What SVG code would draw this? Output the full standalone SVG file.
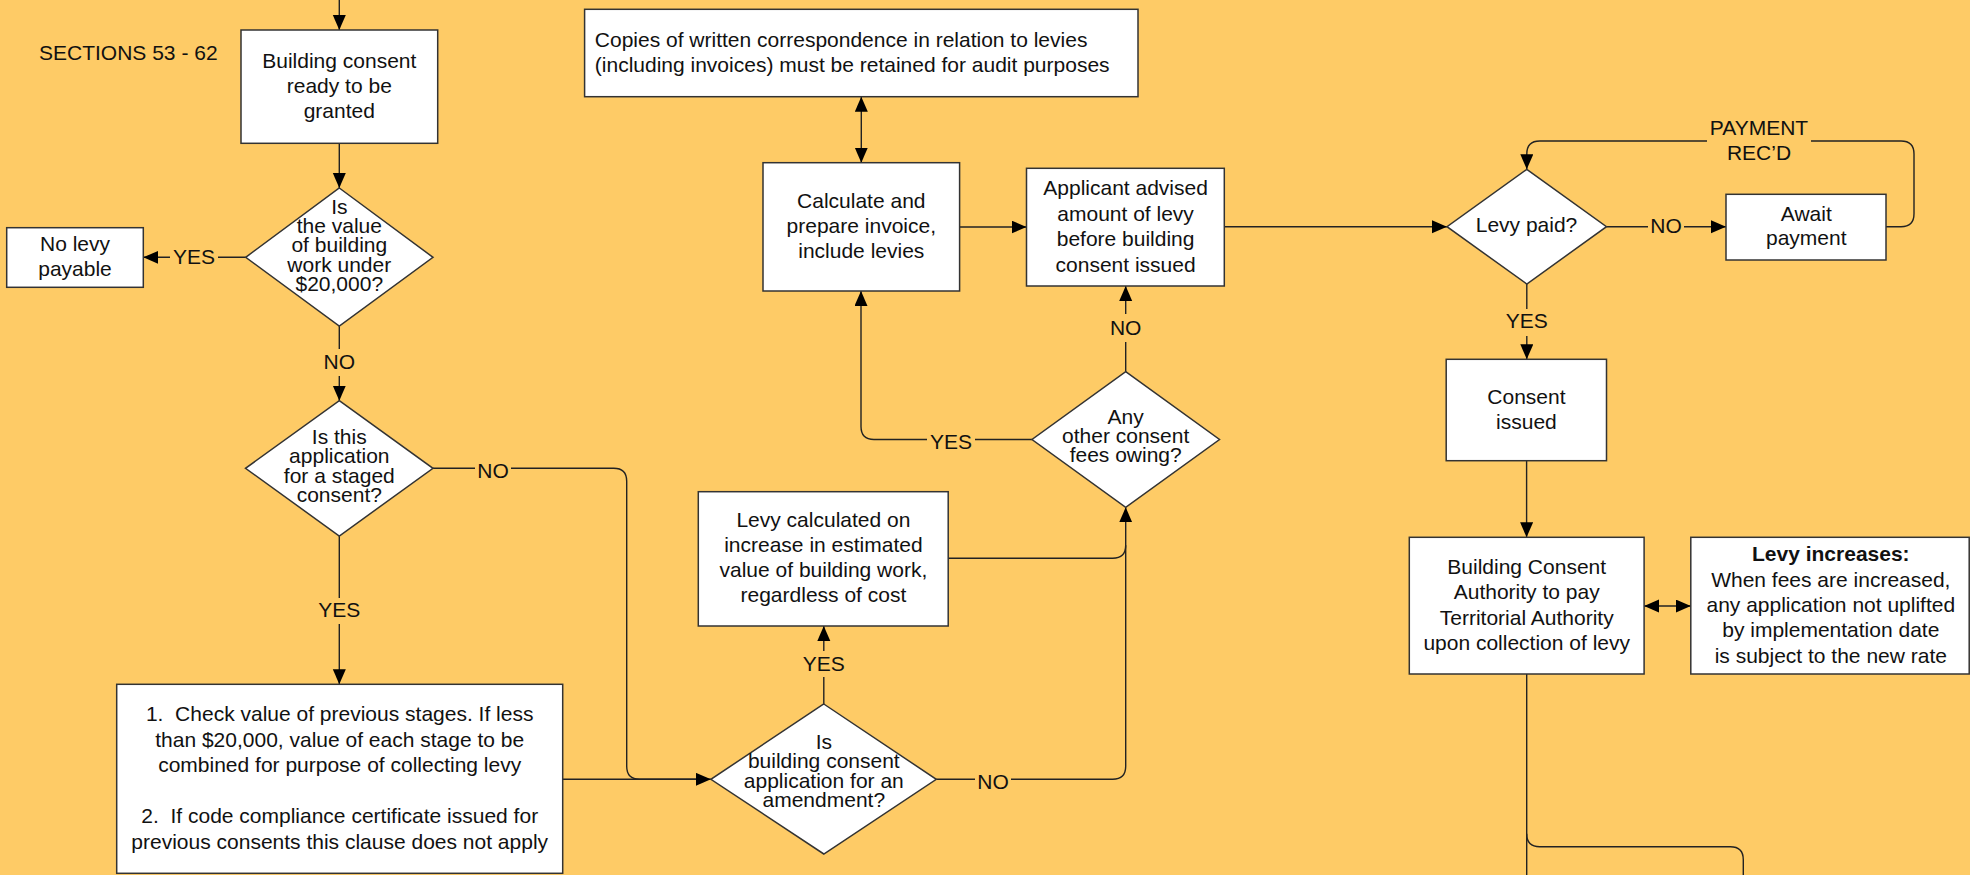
<svg xmlns="http://www.w3.org/2000/svg" width="1970" height="875" viewBox="0 0 1970 875">
<style>
.bx{fill:#fff;stroke:#333;stroke-width:1.5}
.cn{fill:none;stroke:#222;stroke-width:1.4}
.t{font-family:"Liberation Sans",Arial,sans-serif;font-size:21px;fill:#111;text-anchor:middle}
.tl{font-family:"Liberation Sans",Arial,sans-serif;font-size:21px;fill:#111;text-anchor:start}
.b{font-weight:bold}
.pre{white-space:pre}
.lbg{fill:#FECB66}
</style>
<defs>
<marker id="ah" markerUnits="userSpaceOnUse" markerWidth="16" markerHeight="14" refX="15" refY="6.5" orient="auto-start-reverse" viewBox="0 0 16 14">
<path d="M0,0 L15,6.5 L0,13 z" fill="#000"/>
</marker>
</defs>
<rect x="0" y="0" width="1970" height="875" fill="#FECB66"/>

<g id="connectors">
<path class="cn" d="M339.3,0 V30" marker-end="url(#ah)"/>
<path class="cn" d="M339.3,143.3 V188" marker-end="url(#ah)"/>
<path class="cn" d="M245.7,257.3 H143.3" marker-end="url(#ah)"/>
<path class="cn" d="M339.3,326 V400.7" marker-end="url(#ah)"/>
<path class="cn" d="M433,468.3 H613.7 Q626.7,468.3 626.7,481.3 V766.3 Q626.7,779.3 639.7,779.3 H700"/>
<path class="cn" d="M339.3,536 V684.3" marker-end="url(#ah)"/>
<path class="cn" d="M562.5,779.3 H710.9" marker-end="url(#ah)"/>
<path class="cn" d="M823.8,704 V626" marker-end="url(#ah)"/>
<path class="cn" d="M936.3,779.3 H1112.7 Q1125.7,779.3 1125.7,766.3 V507.3" marker-end="url(#ah)"/>
<path class="cn" d="M948.2,558.3 H1112.7 Q1125.7,558.3 1125.7,545.3"/>
<path class="cn" d="M1125.7,371.7 V286" marker-end="url(#ah)"/>
<path class="cn" d="M1032,439.5 H874 Q861,439.5 861,426.5 V291" marker-end="url(#ah)"/>
<path class="cn" d="M861.3,96.7 V162.7" marker-start="url(#ah)" marker-end="url(#ah)"/>
<path class="cn" d="M959.6,227 H1026.5" marker-end="url(#ah)"/>
<path class="cn" d="M1224.3,226.7 H1447" marker-end="url(#ah)"/>
<path class="cn" d="M1606.5,226.7 H1726" marker-end="url(#ah)"/>
<path class="cn" d="M1886,226.7 H1901 Q1914,226.7 1914,213.7 V154 Q1914,141 1901,141 H1539.8 Q1526.8,141 1526.8,154 V169.3" marker-end="url(#ah)"/>
<path class="cn" d="M1526.8,284 V359.3" marker-end="url(#ah)"/>
<path class="cn" d="M1526.6,460.7 V537.3" marker-end="url(#ah)"/>
<path class="cn" d="M1644.1,606 H1690.8" marker-start="url(#ah)" marker-end="url(#ah)"/>
<path class="cn" d="M1526.7,674 V875"/>
<path class="cn" d="M1526.7,833.7 Q1526.7,846.7 1539.7,846.7 H1730.3 Q1743.3,846.7 1743.3,859.7 V875"/>

<g id="labels">
<rect class="lbg" x="170" y="246" width="48" height="22"/>
<text class="t" x="194" y="264">YES</text>
<rect class="lbg" x="321" y="349" width="36" height="27"/>
<text class="t" x="339.3" y="369">NO</text>
<rect class="lbg" x="475" y="460" width="36" height="22"/>
<text class="t" x="493" y="478">NO</text>
<rect class="lbg" x="315" y="598" width="48" height="26"/>
<text class="t" x="339.3" y="616.5">YES</text>
<rect class="lbg" x="800" y="651" width="48" height="26"/>
<text class="t" x="823.8" y="670.5">YES</text>
<rect class="lbg" x="975" y="771" width="36" height="22"/>
<text class="t" x="993" y="789">NO</text>
<rect class="lbg" x="927" y="430" width="48" height="22"/>
<text class="t" x="951" y="449">YES</text>
<rect class="lbg" x="1108" y="314" width="36" height="28"/>
<text class="t" x="1125.7" y="335">NO</text>
<rect class="lbg" x="1648" y="215" width="36" height="22"/>
<text class="t" x="1666" y="233.3">NO</text>
<rect class="lbg" x="1503" y="309" width="48" height="27"/>
<text class="t" x="1526.8" y="328.3">YES</text>
<rect class="lbg" x="1707" y="130" width="104" height="22"/>
<text class="t" x="1759" y="135">PAYMENT</text>
<text class="t" x="1759" y="160">REC’D</text>
</g>
</g>

<text id="title" class="tl" x="39" y="60">SECTIONS 53 - 62</text>

<g id="n-ready">
<rect class="bx" x="241" y="30" width="196.7" height="113.3"/>
<text class="t"><tspan x="339.3" y="68.3">Building consent</tspan><tspan x="339.3" y="93.3">ready to be</tspan><tspan x="339.3" y="118.3">granted</tspan></text>
</g>

<g id="n-under20k">
<polygon class="bx" points="339.3,188 433,257.3 339.3,326 245.7,257.3"/>
<text class="t"><tspan x="339.3" y="213.5">Is</tspan><tspan x="339.3" y="232.5">the value</tspan><tspan x="339.3" y="252">of building</tspan><tspan x="339.3" y="271.5">work under</tspan><tspan x="339.3" y="290.5">$20,000?</tspan></text>
</g>

<g id="n-nolevy">
<rect class="bx" x="6.7" y="227.7" width="136.6" height="59.6"/>
<text class="t"><tspan x="75" y="250.7">No levy</tspan><tspan x="75" y="275.7">payable</tspan></text>
</g>

<g id="n-staged">
<polygon class="bx" points="339.3,400.7 433,468.3 339.3,536 245.5,468.3"/>
<text class="t"><tspan x="339.3" y="444">Is this</tspan><tspan x="339.3" y="463.3">application</tspan><tspan x="339.3" y="482.7">for a staged</tspan><tspan x="339.3" y="502">consent?</tspan></text>
</g>

<g id="n-check">
<rect class="bx" x="116.7" y="684.3" width="446" height="189"/>
<text class="t pre"><tspan x="339.7" y="720.7">1.  Check value of previous stages. If less</tspan><tspan x="339.7" y="746.5">than $20,000, value of each stage to be</tspan><tspan x="339.7" y="772.3">combined for purpose of collecting levy</tspan><tspan x="339.7" y="823.3">2.  If code compliance certificate issued for</tspan><tspan x="339.7" y="848.8">previous consents this clause does not apply</tspan></text>
</g>

<g id="n-copies">
<rect class="bx" x="584.6" y="9.3" width="553.4" height="87.4"/>
<text class="tl"><tspan x="594.8" y="46.7">Copies of written correspondence in relation to levies</tspan><tspan x="594.8" y="71.7">(including invoices) must be retained for audit purposes</tspan></text>
</g>

<g id="n-calc">
<rect class="bx" x="763" y="162.7" width="196.6" height="128.3"/>
<text class="t"><tspan x="861.3" y="208.3">Calculate and</tspan><tspan x="861.3" y="233.3">prepare invoice,</tspan><tspan x="861.3" y="258.3">include levies</tspan></text>
</g>

<g id="n-advised">
<rect class="bx" x="1026.5" y="168.3" width="197.8" height="117.7"/>
<text class="t"><tspan x="1125.6" y="195">Applicant advised</tspan><tspan x="1125.6" y="220.7">amount of levy</tspan><tspan x="1125.6" y="246.4">before building</tspan><tspan x="1125.6" y="272">consent issued</tspan></text>
</g>

<g id="n-otherfees">
<polygon class="bx" points="1125.7,371.7 1219.5,439.5 1125.7,507.3 1032,439.5"/>
<text class="t"><tspan x="1125.7" y="424">Any</tspan><tspan x="1125.7" y="443">other consent</tspan><tspan x="1125.7" y="462.3">fees owing?</tspan></text>
</g>

<g id="n-levycalc">
<rect class="bx" x="698.3" y="491.7" width="249.9" height="134.3"/>
<text class="t"><tspan x="823.4" y="526.7">Levy calculated on</tspan><tspan x="823.4" y="551.9">increase in estimated</tspan><tspan x="823.4" y="577.1">value of building work,</tspan><tspan x="823.4" y="602.3">regardless of cost</tspan></text>
</g>

<g id="n-amendment">
<polygon class="bx" points="823.8,704 936.3,779.3 823.8,854 710.9,779.3"/>
<text class="t"><tspan x="823.8" y="749">Is</tspan><tspan x="823.8" y="768.3">building consent</tspan><tspan x="823.8" y="788">application for an</tspan><tspan x="823.8" y="807">amendment?</tspan></text>
</g>

<g id="n-levypaid">
<polygon class="bx" points="1526.8,169.3 1606.5,226.7 1526.8,284 1447,226.7"/>
<text class="t" x="1526.5" y="231.7">Levy paid?</text>
</g>

<g id="n-await">
<rect class="bx" x="1726" y="194.3" width="160" height="65.7"/>
<text class="t"><tspan x="1806.3" y="220.7">Await</tspan><tspan x="1806.3" y="245.3">payment</tspan></text>
</g>

<g id="n-issued">
<rect class="bx" x="1446.2" y="359.3" width="160.3" height="101.4"/>
<text class="t"><tspan x="1526.4" y="404">Consent</tspan><tspan x="1526.4" y="428.5">issued</tspan></text>
</g>

<g id="n-bca">
<rect class="bx" x="1409.3" y="537.3" width="234.8" height="136.7"/>
<text class="t"><tspan x="1526.7" y="573.5">Building Consent</tspan><tspan x="1526.7" y="599">Authority to pay</tspan><tspan x="1526.7" y="624.7">Territorial Authority</tspan><tspan x="1526.7" y="650.3">upon collection of levy</tspan></text>
</g>

<g id="n-increases">
<rect class="bx" x="1690.8" y="537.3" width="278.4" height="136.7"/>
<text class="t"><tspan class="b" x="1830.8" y="560.7">Levy increases:</tspan><tspan x="1830.8" y="586.5">When fees are increased,</tspan><tspan x="1830.8" y="612">any application not uplifted</tspan><tspan x="1830.8" y="637.4">by implementation date</tspan><tspan x="1830.8" y="662.8">is subject to the new rate</tspan></text>
</g>
</svg>
